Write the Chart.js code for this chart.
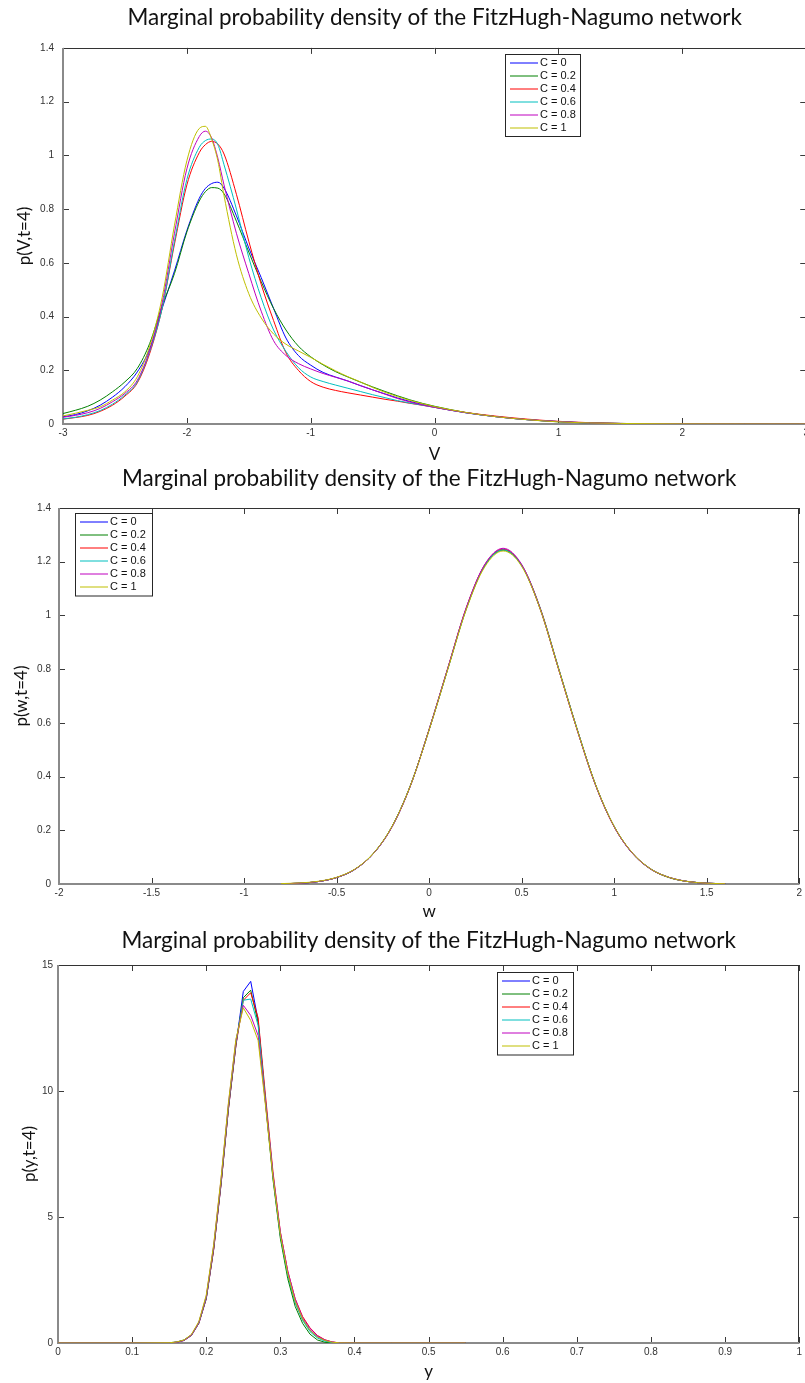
<!DOCTYPE html>
<html><head><meta charset="utf-8">
<script src="https://cdn.jsdelivr.net/npm/chart.js@4.4.1/dist/chart.umd.min.js"></script>
<style>
html,body{margin:0;padding:0;background:#fff;overflow:hidden;width:805px;height:1383px;position:relative}
canvas{position:absolute;left:0}
</style></head><body>
<canvas id="c1" width="812" height="468" style="top:0px"></canvas>
<canvas id="c2" width="805" height="462" style="top:462px"></canvas>
<canvas id="c3" width="805" height="459" style="top:924px"></canvas>
<script>
// ---------- shared ----------
const chartTitle = 'Marginal probability density of the FitzHugh-Nagumo network';
const seriesLabels = ['C = 0','C = 0.2','C = 0.4','C = 0.6','C = 0.8','C = 1'];
const seriesColors = ['#0000ff','#008000','#ff0000','#00bfbf','#bf00bf','#bfbf00'];

// ---------- panel 1 : V ----------
const vTicks = [-3,-2,-1,0,1,2,3];
const pVTicks = [0,0.2,0.4,0.6,0.8,1,1.2,1.4];
const vGrid = [-3.0,-2.9,-2.8,-2.7,-2.6,-2.5,-2.4,-2.3,-2.2,-2.1,-2.0,-1.9,-1.85,-1.8,-1.75,-1.7,-1.6,-1.5,-1.4,-1.3,-1.2,-1.1,-1.0,-0.9,-0.8,-0.7,-0.6,-0.5,-0.4,-0.3,-0.2,-0.1,0,0.25,0.5,0.75,1.0,1.25,1.5,2.0,2.5,3.0];
const pV_C0  = [0.027,0.035,0.049,0.070,0.100,0.139,0.194,0.280,0.430,0.570,0.720,0.840,0.877,0.895,0.900,0.878,0.775,0.655,0.545,0.430,0.320,0.255,0.219,0.192,0.175,0.160,0.143,0.127,0.112,0.097,0.084,0.073,0.063,0.042,0.027,0.016,0.009,0.004,0.002,0.0005,0.0001,0];
const pV_C02 = [0.039,0.051,0.066,0.089,0.120,0.157,0.207,0.300,0.440,0.560,0.715,0.830,0.865,0.880,0.878,0.857,0.755,0.640,0.530,0.430,0.350,0.290,0.250,0.220,0.195,0.175,0.156,0.138,0.121,0.105,0.090,0.077,0.066,0.043,0.027,0.016,0.008,0.004,0.002,0.0005,0.0001,0];
const pV_C04 = [0.018,0.024,0.032,0.047,0.070,0.104,0.153,0.263,0.430,0.670,0.890,1.010,1.040,1.052,1.042,1.005,0.855,0.680,0.520,0.385,0.265,0.200,0.158,0.137,0.125,0.116,0.108,0.100,0.092,0.085,0.077,0.070,0.062,0.043,0.029,0.018,0.010,0.005,0.002,0.0005,0.0001,0];
const pV_C06 = [0.019,0.025,0.035,0.050,0.074,0.108,0.157,0.270,0.430,0.680,0.910,1.030,1.055,1.061,1.040,0.965,0.800,0.620,0.470,0.350,0.270,0.210,0.175,0.158,0.145,0.133,0.121,0.109,0.098,0.087,0.078,0.070,0.062,0.042,0.027,0.016,0.009,0.004,0.002,0.0005,0.0001,0];
const pV_C08 = [0.025,0.032,0.042,0.058,0.083,0.114,0.163,0.275,0.450,0.710,0.950,1.070,1.090,1.065,0.990,0.890,0.710,0.560,0.420,0.310,0.255,0.225,0.205,0.188,0.174,0.160,0.143,0.127,0.111,0.095,0.082,0.071,0.062,0.042,0.027,0.016,0.009,0.004,0.002,0.0005,0.0001,0];
const pV_C1  = [0.030,0.040,0.051,0.064,0.089,0.120,0.176,0.290,0.470,0.740,0.980,1.100,1.108,1.060,0.980,0.850,0.630,0.485,0.395,0.335,0.297,0.272,0.248,0.222,0.198,0.176,0.157,0.136,0.118,0.102,0.088,0.076,0.065,0.043,0.027,0.016,0.008,0.004,0.002,0.0005,0.0001,0];

// ---------- panel 2 : w ----------
const wTicks = [-2,-1.5,-1,-0.5,0,0.5,1,1.5,2];
const pWTicks = [0,0.2,0.4,0.6,0.8,1,1.2,1.4];
const wGrid = [-0.8,-0.7,-0.6,-0.5,-0.4,-0.3,-0.2,-0.1,0.0,0.1,0.2,0.3,0.4,0.5,0.6,0.7,0.8,0.9,1.0,1.1,1.2,1.3,1.4,1.5,1.6];
const pW_C0  = [0.001,0.003,0.009,0.024,0.055,0.114,0.214,0.368,0.575,0.800,1.025,1.186,1.245,1.186,1.025,0.800,0.575,0.368,0.214,0.114,0.055,0.024,0.009,0.003,0.001];
const pW_C02 = [0.001,0.003,0.009,0.024,0.055,0.115,0.215,0.369,0.574,0.798,1.022,1.184,1.243,1.188,1.028,0.803,0.577,0.369,0.214,0.113,0.054,0.023,0.009,0.003,0.001];
const pW_C04 = [0.001,0.003,0.009,0.024,0.055,0.114,0.214,0.368,0.576,0.802,1.027,1.188,1.247,1.187,1.024,0.799,0.574,0.367,0.213,0.114,0.055,0.024,0.009,0.003,0.001];
const pW_C06 = [0.001,0.003,0.009,0.024,0.055,0.114,0.214,0.368,0.575,0.800,1.024,1.185,1.244,1.186,1.026,0.801,0.576,0.368,0.214,0.114,0.055,0.024,0.009,0.003,0.001];
const pW_C08 = [0.001,0.003,0.009,0.024,0.055,0.114,0.213,0.367,0.575,0.801,1.027,1.189,1.250,1.190,1.027,0.800,0.574,0.367,0.213,0.113,0.054,0.024,0.009,0.003,0.001];
const pW_C1  = [0.0015,0.004,0.010,0.025,0.056,0.115,0.215,0.368,0.573,0.797,1.020,1.180,1.240,1.183,1.024,0.800,0.575,0.369,0.215,0.115,0.055,0.024,0.009,0.003,0.001];

// ---------- panel 3 : y ----------
const yTicks = [0,0.1,0.2,0.3,0.4,0.5,0.6,0.7,0.8,0.9,1];
const pYTicks = [0,5,10,15];
const yGrid = [0,0.05,0.1,0.15,0.16,0.17,0.18,0.19,0.20,0.21,0.22,0.23,0.24,0.25,0.26,0.27,0.28,0.29,0.30,0.31,0.32,0.33,0.34,0.35,0.36,0.37,0.38,0.40,0.45,0.50,0.55];
const pY_C0  = [0,0,0,0.005,0.03,0.10,0.30,0.78,1.75,3.70,6.30,9.30,11.80,13.95,14.35,12.80,9.60,6.60,4.25,2.70,1.60,0.93,0.50,0.25,0.10,0.03,0.005,0,0,0,0];
const pY_C02 = [0,0,0,0.010,0.04,0.12,0.32,0.80,1.78,3.75,6.35,9.35,11.85,13.70,14.00,12.70,9.50,6.50,4.15,2.55,1.45,0.78,0.35,0.12,0.03,0,0,0,0,0,0];
const pY_C04 = [0,0,0,0.005,0.03,0.10,0.30,0.78,1.76,3.70,6.30,9.30,11.80,13.60,13.90,12.90,9.80,6.80,4.40,2.85,1.75,1.05,0.60,0.30,0.13,0.04,0.005,0,0,0,0];
const pY_C06 = [0,0,0,0.005,0.03,0.11,0.31,0.80,1.80,3.80,6.40,9.40,11.90,13.60,13.65,12.60,9.60,6.65,4.30,2.70,1.60,0.90,0.45,0.20,0.07,0.02,0,0,0,0,0];
const pY_C08 = [0,0,0,0.005,0.03,0.11,0.32,0.82,1.85,3.85,6.50,9.50,12.00,13.40,13.00,12.20,9.50,6.70,4.40,2.85,1.75,1.00,0.57,0.28,0.12,0.04,0.005,0,0,0,0];
const pY_C1  = [0,0,0,0.010,0.04,0.12,0.34,0.85,1.90,3.90,6.55,9.55,12.05,13.30,12.80,12.00,9.40,6.60,4.30,2.75,1.65,0.95,0.50,0.24,0.10,0.03,0.005,0,0,0,0];

// ---------- plugins ----------
const framePlugin = {
  id: 'frame',
  beforeDatasetsDraw(chart) {
    const {ctx, chartArea: a, scales: {x, y}} = chart;
    const seg = (x1, y1, x2, y2) => { ctx.beginPath(); ctx.moveTo(x1, y1); ctx.lineTo(x2, y2); ctx.stroke(); };
    ctx.save();
    ctx.strokeStyle = '#3a3a3a'; ctx.lineWidth = 1;
    const tl = 6;
    x.ticks.forEach(t => {
      const px = Math.round(x.getPixelForValue(t.value)) + 0.5;
      seg(px, a.bottom, px, a.bottom - tl);
      seg(px, a.top, px, a.top + tl);
    });
    y.ticks.forEach(t => {
      const py = Math.round(y.getPixelForValue(t.value)) + 0.5;
      seg(a.left, py, a.left + tl, py);
      seg(a.right, py, a.right - tl, py);
    });
    ctx.strokeStyle = '#333';
    seg(a.left, Math.round(a.top) + 0.5, a.right, Math.round(a.top) + 0.5);
    seg(Math.round(a.right) - 0.5, a.top, Math.round(a.right) - 0.5, a.bottom);
    ctx.strokeStyle = '#8a8a8a'; ctx.lineWidth = 2;
    seg(Math.round(a.left), a.top, Math.round(a.left), a.bottom + 1);
    seg(a.left - 1, Math.round(a.bottom), a.right, Math.round(a.bottom));
    ctx.restore();
  }
};
const boxLegend = {
  id: 'boxLegend',
  afterDraw(chart, args, o) {
    if (!o || o.x == null) return;
    const ctx = chart.ctx;
    const ds = chart.data.datasets;
    const h = o.first * 2 + (ds.length - 1) * o.row;
    ctx.save();
    ctx.fillStyle = '#fff';
    ctx.fillRect(o.x, o.y, o.w, h);
    ctx.strokeStyle = '#262626'; ctx.lineWidth = 1;
    ctx.strokeRect(o.x + 0.5, o.y + 0.5, o.w, h);
    ctx.font = '11px "Liberation Sans", Arial, sans-serif';
    ctx.textBaseline = 'middle';
    ds.forEach((d, i) => {
      const cy = Math.round(o.y + o.first + i * o.row);
      ctx.strokeStyle = d.borderColor;
      ctx.lineWidth = 1;
      ctx.beginPath(); ctx.moveTo(o.x + 5, cy); ctx.lineTo(o.x + 33, cy); ctx.stroke();
      ctx.fillStyle = '#111';
      ctx.fillText(d.label, o.x + 35, cy);
    });
    ctx.restore();
  }
};

const tickFont = {family: '"Liberation Sans Narrow", "Liberation Sans", Arial, sans-serif', size: 10};
const labelFont = {family: 'Lato, "Open Sans", sans-serif', size: 17, lineHeight: 1.2};
const titleFont = {family: 'Lato, "Open Sans", sans-serif', size: 22.5, lineHeight: 1.2, weight: 'normal'};
const fmtTick = v => String(Math.round(v * 1000) / 1000);

function makeChart(id, p) {
  const n = p.series.length;
  const datasets = p.series.map((s, i) => ({
    label: seriesLabels[i],
    data: p.xs.map((xv, j) => ({x: xv, y: s[j]})),
    borderColor: seriesColors[i],
    backgroundColor: seriesColors[i],
    borderWidth: 1,
    pointRadius: 0,
    fill: false,
    tension: p.smooth ? 0.4 : 0,
    cubicInterpolationMode: p.smooth ? 'monotone' : 'default',
    order: n - 1 - i
  }));
  return new Chart(document.getElementById(id), {
    type: 'line',
    data: {datasets},
    plugins: [framePlugin, boxLegend],
    options: {
      responsive: false,
      animation: false,
      events: [],
      layout: {padding: {left: 0, top: 0, right: p.padRight, bottom: 0}},
      plugins: {
        legend: {display: false},
        tooltip: {enabled: false},
        title: {display: true, text: chartTitle, fullSize: false, color: '#111', font: titleFont,
                padding: {top: p.titleTop, bottom: p.titleBottom}},
        boxLegend: p.legend
      },
      scales: {
        x: {
          type: 'linear', min: p.xMin, max: p.xMax,
          afterBuildTicks: s => { s.ticks = p.xTicks.map(v => ({value: v})); },
          afterFit: s => { s.height = p.xHeight; },
          grid: {display: false, drawTicks: false},
          border: {display: false},
          ticks: {autoSkip: false, maxRotation: 0, padding: 3, color: '#333', font: tickFont, callback: fmtTick},
          title: {display: true, text: p.xLabel, color: '#111', font: labelFont, padding: {top: 0, bottom: p.xTitlePad}}
        },
        y: {
          type: 'linear', min: p.yMin, max: p.yMax,
          afterBuildTicks: s => { s.ticks = p.yTicks.map(v => ({value: v})); },
          afterFit: s => { s.width = p.yWidth; },
          grid: {display: false, drawTicks: false},
          border: {display: false},
          ticks: {autoSkip: false, padding: p.yTickPad, color: '#333', font: tickFont, callback: fmtTick},
          title: {display: true, text: p.yLabel, color: '#111', font: labelFont, padding: {top: p.yTitlePad, bottom: 0}}
        }
      }
    }
  });
}

makeChart('c1', {
  xs: vGrid, series: [pV_C0, pV_C02, pV_C04, pV_C06, pV_C08, pV_C1], smooth: true,
  xMin: -3, xMax: 3, yMin: 0, yMax: 1.4, xTicks: vTicks, yTicks: pVTicks,
  xLabel: 'V', yLabel: 'p(V,t=4)',
  padRight: 5, titleTop: 4.4, titleBottom: 16.5, xHeight: 44, xTitlePad: 2.8,
  yWidth: 63, yTitlePad: 14.8, yTickPad: 9,
  legend: {x: 505, y: 54, w: 75, first: 8.5, row: 13}
});
makeChart('c2', {
  xs: wGrid, series: [pW_C0, pW_C02, pW_C04, pW_C06, pW_C08, pW_C1], smooth: true,
  xMin: -2, xMax: 2, yMin: 0, yMax: 1.4, xTicks: wTicks, yTicks: pWTicks,
  xLabel: 'w', yLabel: 'p(w,t=4)',
  padRight: 4, titleTop: 3.0, titleBottom: 16.0, xHeight: 40, xTitlePad: 1.8,
  yWidth: 59, yTitlePad: 11.8, yTickPad: 8,
  legend: {x: 75, y: 51, w: 77, first: 8.5, row: 13.1}
});
makeChart('c3', {
  xs: yGrid, series: [pY_C0, pY_C02, pY_C04, pY_C06, pY_C08, pY_C1], smooth: false,
  xMin: 0, xMax: 1, yMin: 0, yMax: 15, xTicks: yTicks, yTicks: pYTicks,
  xLabel: 'y', yLabel: 'p(y,t=4)',
  padRight: 5, titleTop: 3.0, titleBottom: 11.0, xHeight: 40, xTitlePad: 0.8,
  yWidth: 58, yTitlePad: 19.8, yTickPad: 5,
  legend: {x: 497, y: 48, w: 76, first: 8.5, row: 13.1}
});
</script>
</body></html>
